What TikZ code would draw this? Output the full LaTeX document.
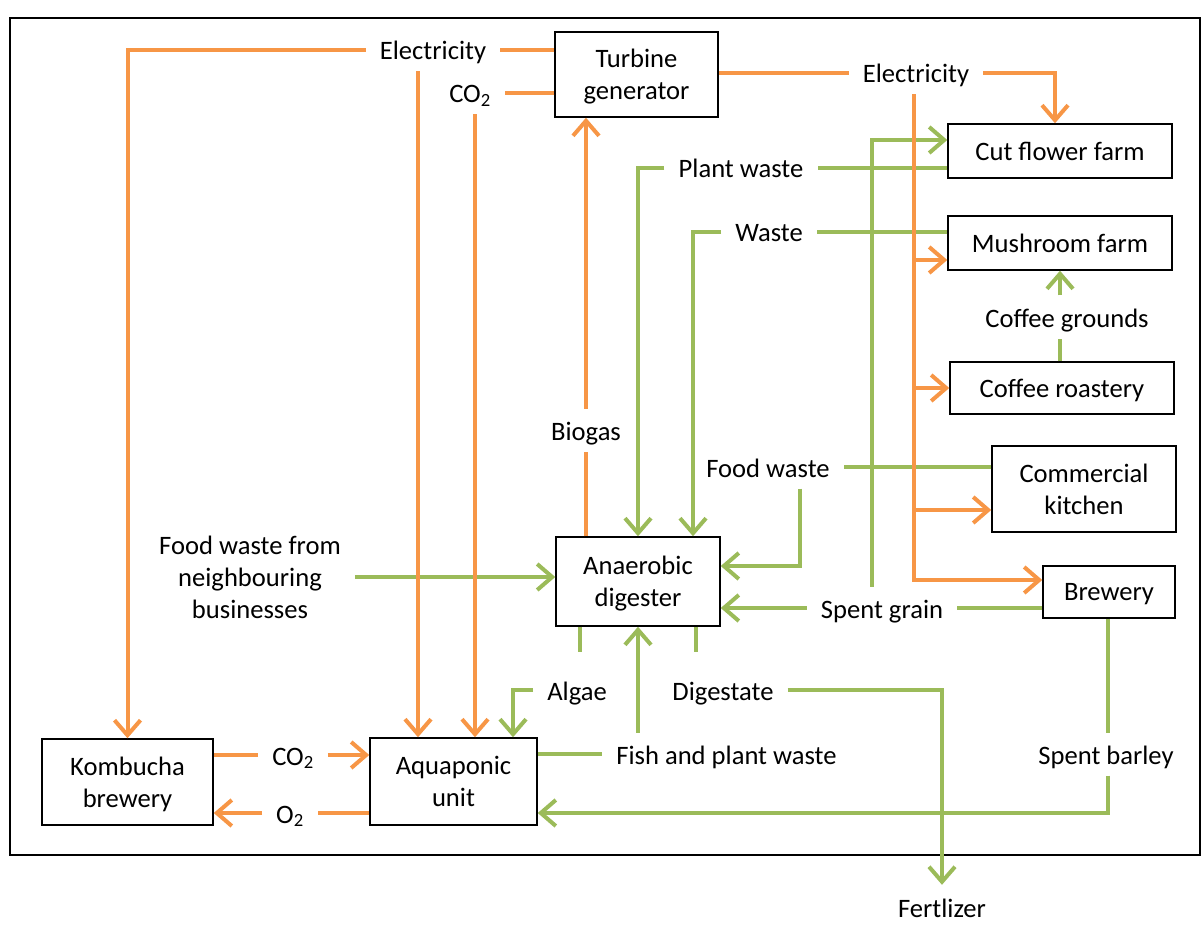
\documentclass[tikz,border=0pt]{standalone}
\usepackage{fontspec}
\setmainfont{Carlito}
\usetikzlibrary{arrows.meta}
\definecolor{flowor}{HTML}{F79646}
\definecolor{flowgr}{HTML}{9BBB59}
\tikzset{
  facility/.style={draw, line width=1.5pt, align=center, inner sep=0pt, text depth=0pt},
  lbl/.style={inner xsep=14pt, inner ysep=5.3pt, text height=26pt, text depth=6pt},
  power/.style={draw=flowor, line width=4pt},
  matter/.style={draw=flowgr, line width=4pt},
  >={Straight Barb[length=15pt,width=26pt]}
}
\begin{document}
\begin{tikzpicture}[x=1pt, y=-1pt, font=\fontsize{26.6}{32}\selectfont]
  \useasboundingbox (0,0) rectangle (1202,925);
  \draw[line width=2pt] (10,18) rectangle (1200,855);
  % Anlagen
  \node[facility, minimum width=163pt, minimum height=85pt] (turbine) at (636.5,74.5) {Turbine\\generator};
  \node[facility, minimum width=224pt, minimum height=54pt] (cutflower) at (1060,151) {Cut flower farm};
  \node[facility, minimum width=224pt, minimum height=54pt] (mushroom) at (1060,243) {Mushroom farm};
  \node[facility, minimum width=224pt, minimum height=52pt] (roastery) at (1062,388) {Coffee roastery};
  \node[facility, minimum width=184pt, minimum height=86pt] (kitchen) at (1084,489) {Commercial\\kitchen};
  \node[facility, minimum width=132pt, minimum height=52pt] (brewery) at (1109,592) {Brewery};
  \node[facility, minimum width=164pt, minimum height=89pt] (digester) at (638,581.5) {Anaerobic\\digester};
  \node[facility, minimum width=171pt, minimum height=86pt] (kombucha) at (127.5,782) {Kombucha\\brewery};
  \node[facility, minimum width=167pt, minimum height=87pt] (aqua) at (453.5,781.5) {Aquaponic\\unit};
  % Beschriftungen
  \node[lbl] (elecL) at (433,50) {Electricity};
  \node[lbl] (co2t) at (470,93) {CO\textsubscript{2}};
  \node[lbl] (elecR) at (916,73) {Electricity};
  \node[lbl] (plantL) at (741,168) {Plant waste};
  \node[lbl] (wasteL) at (769,232) {Waste};
  \node[lbl] (grounds) at (1067,317) {Coffee grounds};
  \node[lbl] (biogas) at (586,430) {Biogas};
  \node[lbl] (foodL) at (768,467) {Food waste};
  \node[align=center, inner xsep=14pt] (neigh) at (250,577) {Food waste from\\neighbouring\\businesses};
  \node[lbl] (spentG) at (882,608) {Spent grain};
  \node[lbl] (algae) at (577,690) {Algae};
  \node[lbl] (digest) at (723,690) {Digestate};
  \node[lbl] (fish) at (726.5,754) {Fish and plant waste};
  \node[lbl] (barley) at (1106,754) {Spent barley};
  \node[lbl] (co2b) at (293,755) {CO\textsubscript{2}};
  \node[lbl] (o2) at (290,813) {O\textsubscript{2}};
  \node[lbl, inner ysep=0pt, text depth=0pt] (fert) at (942,904) {Fertlizer};
  % Stoffstroeme
  \draw[matter] (cutflower.west |- plantL) -- (plantL.east);
  \draw[matter,->] (plantL.west) -| (digester.north);
  \draw[matter] (mushroom.west |- wasteL) -- (wasteL.east);
  \draw[matter,->] (wasteL.west) -| (digester.north -| 693,0);
  \draw[matter] (roastery.north -| mushroom.south) -- (grounds.south -| mushroom.south);
  \draw[matter,->] (grounds.north -| mushroom.south) -- (mushroom.south);
  \draw[matter] (kitchen.west |- foodL) -- (foodL.east);
  \draw[matter,->] (foodL.south -| 800,0) |- (digester.east |- 0,566);
  \draw[matter] (brewery.west |- spentG) -- (spentG.east);
  \draw[matter,->] (spentG.west) -- (digester.east |- spentG.west);
  \draw[matter,->] (spentG.north -| 872,0) |- (cutflower.west |- 0,140);
  \draw[matter,->] (neigh.east) -- (digester.west |- neigh.east);
  \draw[matter,shorten >=17pt] (digester.south -| 580,0) -- (algae.north -| 580,0);
  \draw[matter,->] (algae.west) -| (aqua.north -| 513,0);
  \draw[matter] (aqua.east |- fish.west) -- (fish.west);
  \draw[matter,->] (fish.north -| digester.south) -- (digester.south);
  \draw[matter,shorten >=17pt] (digester.south -| 696,0) -- (digest.north -| 696,0);
  \draw[matter,->,shorten >=6pt] (digest.east) -| (fert.north);
  \draw[matter] (brewery.south -| 1108,0) -- (barley.north -| 1108,0);
  \draw[matter,->] (barley.south -| 1108,0) |- (aqua.east |- 0,813);
  % Energie und Gase
  \draw[power] (turbine.west |- elecL) -- (elecL.east);
  \draw[power,->] (elecL.west) -| (kombucha.north);
  \draw[power,->] (elecL.south -| 418,0) -- (aqua.north -| 418,0);
  \draw[power] (turbine.west |- co2t) -- (co2t.east);
  \draw[power,->] (co2t.south -| 475,0) -- (aqua.north -| 475,0);
  \draw[power] (turbine.east |- elecR) -- (elecR.west);
  \draw[power,->] (elecR.east) -| (cutflower.north -| 1055,0);
  \draw[power,->] (elecR.south -| 914,0) |- (brewery.west |- 0,580);
  \draw[power,->] (elecR.south -| 914,0) |- (mushroom.west |- 0,260);
  \draw[power,->] (elecR.south -| 914,0) |- (roastery.west);
  \draw[power,->] (elecR.south -| 914,0) |- (kitchen.west |- 0,510);
  \draw[power] (digester.north -| biogas) -- (biogas.south);
  \draw[power,->] (biogas.north) -- (turbine.south -| biogas.north);
  \draw[power] (kombucha.east |- co2b) -- (co2b.west);
  \draw[power,->] (co2b.east) -- (aqua.west |- co2b.east);
  \draw[power] (aqua.west |- o2) -- (o2.east);
  \draw[power,->] (o2.west) -- (kombucha.east |- o2.west);
\end{tikzpicture}
\end{document}
